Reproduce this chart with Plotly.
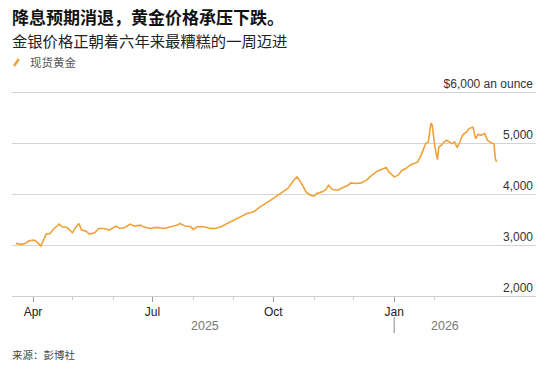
import plotly.graph_objects as go

# ---- data ----
dates = [
    "2025-03-19", "2025-03-23", "2025-03-26", "2025-03-29", "2025-04-02", "2025-04-04",
    "2025-04-07", "2025-04-09", "2025-04-11", "2025-04-14", "2025-04-17", "2025-04-21",
    "2025-04-23", "2025-04-27", "2025-05-01", "2025-05-03", "2025-05-06", "2025-05-08",
    "2025-05-11", "2025-05-14", "2025-05-18", "2025-05-21", "2025-05-25", "2025-05-29",
    "2025-06-03", "2025-06-06", "2025-06-10", "2025-06-14", "2025-06-17", "2025-06-22",
    "2025-06-24", "2025-06-29", "2025-07-04", "2025-07-10", "2025-07-15", "2025-07-20",
    "2025-07-22", "2025-07-26", "2025-07-30", "2025-08-01", "2025-08-04", "2025-08-09",
    "2025-08-14", "2025-08-18", "2025-08-22", "2025-08-27", "2025-09-01", "2025-09-06",
    "2025-09-11", "2025-09-16", "2025-09-21", "2025-09-29", "2025-10-07", "2025-10-12",
    "2025-10-17", "2025-10-19", "2025-10-21", "2025-10-23", "2025-10-26", "2025-10-29",
    "2025-11-01", "2025-11-03", "2025-11-07", "2025-11-10", "2025-11-12", "2025-11-15",
    "2025-11-19", "2025-11-23", "2025-11-27", "2025-11-29", "2025-12-03", "2025-12-07",
    "2025-12-11", "2025-12-14", "2025-12-19", "2025-12-26", "2025-12-28", "2026-01-01",
    "2026-01-04", "2026-01-07", "2026-01-10", "2026-01-13", "2026-01-16", "2026-01-19",
    "2026-01-22", "2026-01-25", "2026-01-27", "2026-01-29", "2026-01-30", "2026-02-01",
    "2026-02-03", "2026-02-04", "2026-02-06", "2026-02-08", "2026-02-10", "2026-02-12",
    "2026-02-14", "2026-02-16", "2026-02-18", "2026-02-20", "2026-02-22", "2026-02-25",
    "2026-02-27", "2026-03-02", "2026-03-04", "2026-03-06", "2026-03-08", "2026-03-11",
    "2026-03-13", "2026-03-16", "2026-03-18", "2026-03-19", "2026-03-20",
]
prices = [
    3033, 3014, 3033, 3084, 3098, 3059,
    2980, 3098, 3216, 3229, 3327, 3412,
    3359, 3347, 3241, 3327, 3425, 3294,
    3280, 3216, 3241, 3327, 3327, 3294,
    3373, 3327, 3347, 3412, 3373, 3392,
    3359, 3327, 3347, 3327, 3359, 3392,
    3425, 3373, 3359, 3308, 3359, 3359,
    3327, 3327, 3359, 3425, 3490, 3555,
    3622, 3653, 3750, 3882, 4014, 4112,
    4288, 4339, 4275, 4176, 4045, 3980,
    3961, 4014, 4045, 4092, 4176, 4092,
    4078, 4131, 4176, 4222, 4210, 4222,
    4275, 4349, 4451, 4524, 4437, 4339,
    4373, 4471, 4504, 4569, 4602, 4633,
    4798, 4994, 5025, 5398, 5353, 4927,
    4680, 4927, 4961, 5025, 5059, 5025,
    4994, 5025, 4915, 5025, 5157, 5222,
    5289, 5320, 5092, 5176, 5157, 5190,
    5059, 5006, 4994, 4700, 4633,
]

series_name = "现货黄金"
title = "降息预期消退，黄金价格承压下跌。"
subtitle = "金银价格正朝着六年来最糟糕的一周迈进"
source = "来源：彭博社"

y_tick_vals = [2000, 3000, 4000, 5000, 6000]
y_tick_text = ["2,000", "3,000", "4,000", "5,000", "$6,000 an ounce"]

month_ticks = ["2025-04-01", "2025-07-01", "2025-10-01", "2026-01-01"]
month_labels = ["Apr", "Jul", "Oct", "Jan"]
minor_ticks = ["2025-05-01", "2025-06-01", "2025-08-01", "2025-09-01",
               "2025-11-01", "2025-12-01", "2026-02-01", "2026-03-01"]
year_labels = ["2025", "2026"]
year_divider = "2026-01-01"
x_range = ["2025-03-16", "2026-04-19"]
y_range = [2000, 6400]

GOLD = "#F2A13A"
CJK = "Noto Sans CJK SC"
LAT = "Liberation Sans"

fig = go.Figure()
fig.add_trace(go.Scatter(
    x=dates, y=prices, mode="lines", name=series_name,
    line=dict(color=GOLD, width=1.6), showlegend=False, hoverinfo="skip",
))

fig.update_layout(
    width=553, height=377,
    margin=dict(l=12, r=17, t=72, b=81),
    paper_bgcolor="white", plot_bgcolor="white",
    font=dict(family=LAT, size=12, color="#333"),
    xaxis=dict(
        type="date", range=x_range,
        tickmode="array", tickvals=month_ticks, ticktext=month_labels,
        ticks="outside", ticklen=5, tickcolor="#999", tickwidth=1,
        tickfont=dict(family=LAT, size=12, color="#222"),
        showgrid=False, showline=True, linecolor="#cfcfcf", linewidth=1,
        zeroline=False,
        minor=dict(tickvals=minor_ticks, ticks="outside", ticklen=3,
                   tickcolor="#c8c8c8", showgrid=False),
    ),
    yaxis=dict(
        range=y_range, side="right",
        tickmode="array", tickvals=y_tick_vals, ticktext=y_tick_text,
        ticklabelposition="inside top",
        tickfont=dict(family=LAT, size=12, color="#333"),
        showgrid=True, gridcolor="#d4d4d4", gridwidth=1,
        zeroline=False, showline=False, ticks="",
    ),
)

ann = []
ann.append(dict(text="<b>" + title + "</b>", xref="paper", yref="paper",
                x=-0.0044, y=1.25, xanchor="left", yanchor="middle", showarrow=False,
                font=dict(family=CJK, size=17, color="#111")))
ann.append(dict(text=subtitle, xref="paper", yref="paper",
                x=-0.0044, y=1.143, xanchor="left", yanchor="middle", showarrow=False,
                font=dict(family=CJK, size=15.3, color="#222")))
ann.append(dict(text=series_name, xref="paper", yref="paper",
                x=0.030, y=1.045, xanchor="left", yanchor="middle", showarrow=False,
                font=dict(family=CJK, size=11.5, color="#555")))
ann.append(dict(text=source, xref="paper", yref="paper",
                x=-0.0044, y=-0.259, xanchor="left", yanchor="middle", showarrow=False,
                font=dict(family=CJK, size=10.5, color="#444")))
for lbl, px in zip(year_labels, [0.368, 0.826]):
    ann.append(dict(text=lbl, xref="paper", yref="paper",
                    x=px, y=-0.134, xanchor="center", yanchor="middle", showarrow=False,
                    font=dict(family=LAT, size=12.5, color="#777")))
fig.update_layout(annotations=ann)

fig.add_shape(type="line", xref="x", yref="paper",
              x0=year_divider, x1=year_divider, y0=-0.094, y1=-0.165,
              line=dict(color="#888", width=1))
# legend pencil icon
fig.add_shape(type="line", xref="paper", yref="paper",
              x0=0.004, y0=1.027, x1=0.013, y1=1.058,
              line=dict(color=GOLD, width=2.5))

fig.write_html("out.html", config={"displayModeBar": False},
               post_script="document.body.style.margin='0';document.body.style.overflow='hidden';")
